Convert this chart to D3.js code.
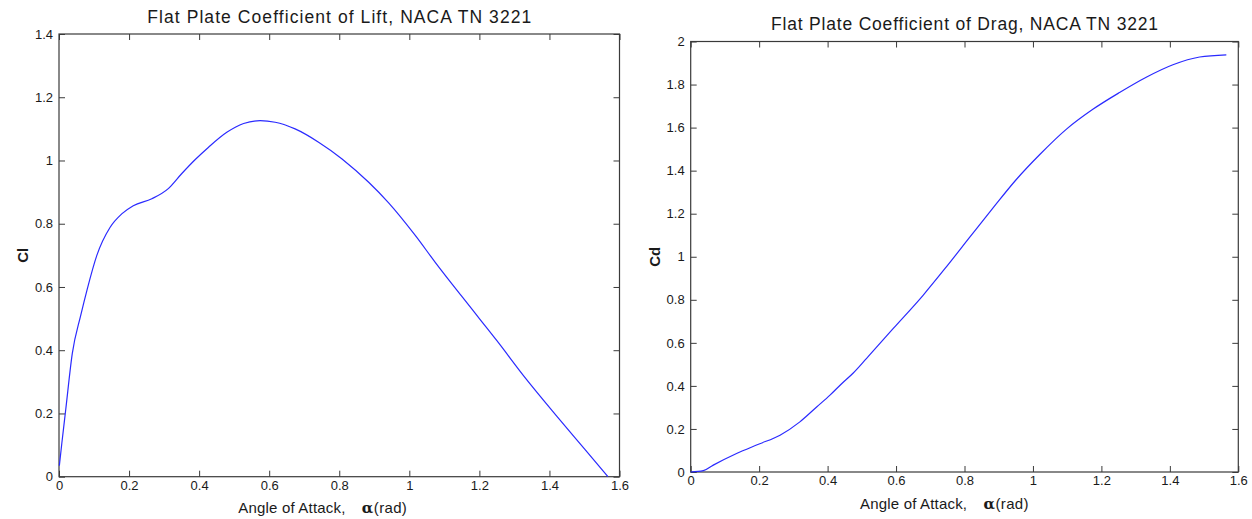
<!DOCTYPE html>
<html>
<head>
<meta charset="utf-8">
<script src="https://cdn.jsdelivr.net/npm/d3@7"></script>
<style>
  html, body { margin: 0; padding: 0; background: #ffffff; }
  svg { display: block; }
  text { font-family: "Liberation Sans", Arial, Helvetica, sans-serif; fill: #1a1a1a; }
</style>
</head>
<body>
<svg id="chart" width="1252" height="519"></svg>
<script>
// Flat plate lift coefficient vs angle of attack (rad)
const liftAlpha = [0.001, 0.008, 0.019, 0.038, 0.062, 0.081, 0.108, 0.146, 0.179, 0.212, 0.265, 0.312, 0.35, 0.389, 0.427, 0.479, 0.527, 0.574, 0.617, 0.674, 0.741, 0.808, 0.884, 0.941, 1.017, 1.074, 1.15, 1.2, 1.25, 1.327, 1.422, 1.5, 1.567];
const liftCl    = [0.035, 0.105, 0.21, 0.39, 0.51, 0.595, 0.7, 0.789, 0.831, 0.857, 0.879, 0.911, 0.958, 1.003, 1.042, 1.089, 1.117, 1.126, 1.121, 1.1, 1.058, 1.005, 0.931, 0.866, 0.763, 0.678, 0.57, 0.5, 0.43, 0.318, 0.19, 0.088, 0];

// Flat plate drag coefficient vs angle of attack (rad)
const dragAlpha = [0, 0.037, 0.066, 0.134, 0.2, 0.261, 0.319, 0.368, 0.407, 0.441, 0.475, 0.514, 0.592, 0.679, 0.747, 0.816, 0.884, 0.952, 1.02, 1.098, 1.175, 1.253, 1.331, 1.409, 1.487, 1.565];
const dragCd    = [0, 0.006, 0.032, 0.086, 0.13, 0.171, 0.233, 0.302, 0.357, 0.41, 0.46, 0.528, 0.667, 0.821, 0.953, 1.092, 1.228, 1.36, 1.475, 1.593, 1.685, 1.763, 1.834, 1.892, 1.928, 1.938];

// Tick values and labels
const xTicks      = [0, 0.2, 0.4, 0.6, 0.8, 1, 1.2, 1.4, 1.6];
const xTickLabels = ["0", "0.2", "0.4", "0.6", "0.8", "1", "1.2", "1.4", "1.6"];
const liftYTicks      = [0, 0.2, 0.4, 0.6, 0.8, 1, 1.2, 1.4];
const liftYTickLabels = ["0", "0.2", "0.4", "0.6", "0.8", "1", "1.2", "1.4"];
const dragYTicks      = [0, 0.2, 0.4, 0.6, 0.8, 1, 1.2, 1.4, 1.6, 1.8, 2];
const dragYTickLabels = ["0", "0.2", "0.4", "0.6", "0.8", "1", "1.2", "1.4", "1.6", "1.8", "2"];

const titles = ["Flat Plate Coefficient of Lift, NACA TN 3221", "Flat Plate Coefficient of Drag, NACA TN 3221"];
const yLabels = ["Cl", "Cd"];

const svg = d3.select("#chart");

const panels = [
  {
    alpha: liftAlpha, values: liftCl, yDomain: [0, 1.4],
    yTicks: liftYTicks, yTickLabels: liftYTickLabels,
    title: titles[0], yLabel: yLabels[0],
    left: 59, right: 619.5, top: 34, bottom: 476.7,
    titleWidth: 384, yLabelX: 23, xLabelStart: 238.3
  },
  {
    alpha: dragAlpha, values: dragCd, yDomain: [0, 2],
    yTicks: dragYTicks, yTickLabels: dragYTickLabels,
    title: titles[1], yLabel: yLabels[1],
    left: 690.7, right: 1238.3, top: 41.5, bottom: 472,
    titleWidth: 387, yLabelX: 655, xLabelStart: 860
  }
];

const axisColor = "#3a3a3a";
const tickLen = 6;

panels.forEach(p => {
  const x = d3.scaleLinear().domain([0, 1.6]).range([p.left, p.right]);
  const y = d3.scaleLinear().domain(p.yDomain).range([p.bottom, p.top]);
  const g = svg.append("g");

  const fmtX = (d, i) => xTickLabels[i];
  const fmtY = (d, i) => p.yTickLabels[i];

  // Bottom axis with labels, ticks pointing inward
  const bottomAxis = g.append("g")
    .attr("transform", `translate(0,${p.bottom})`)
    .call(d3.axisBottom(x).tickValues(xTicks).tickFormat(fmtX)
      .tickSizeInner(-tickLen).tickSizeOuter(0).tickPadding(4));
  // Left axis with labels
  const leftAxis = g.append("g")
    .attr("transform", `translate(${p.left},0)`)
    .call(d3.axisLeft(y).tickValues(p.yTicks).tickFormat(fmtY)
      .tickSizeInner(-tickLen).tickSizeOuter(0).tickPadding(6));
  // Top and right axes: ticks only
  const topAxis = g.append("g")
    .attr("transform", `translate(0,${p.top})`)
    .call(d3.axisTop(x).tickValues(xTicks).tickFormat("")
      .tickSizeInner(-tickLen).tickSizeOuter(0));
  const rightAxis = g.append("g")
    .attr("transform", `translate(${p.right},0)`)
    .call(d3.axisRight(y).tickValues(p.yTicks).tickFormat("")
      .tickSizeInner(-tickLen).tickSizeOuter(0));

  [bottomAxis, leftAxis, topAxis, rightAxis].forEach(a => {
    a.select(".domain").remove();
    a.selectAll(".tick line").attr("stroke", axisColor).attr("stroke-width", 1);
    a.selectAll(".tick text")
      .attr("font-size", 13)
      .attr("font-family", '"Liberation Sans", Arial, sans-serif')
      .attr("fill", "#1a1a1a");
  });

  // Axes box
  g.append("rect")
    .attr("x", p.left).attr("y", p.top)
    .attr("width", p.right - p.left).attr("height", p.bottom - p.top)
    .attr("fill", "none").attr("stroke", axisColor).attr("stroke-width", 1.2);

  // Data curve
  const pts = p.alpha.map((a, i) => [a, p.values[i]]);
  const line = d3.line()
    .x(d => x(d[0])).y(d => y(d[1]))
    .curve(d3.curveMonotoneX);
  g.append("path")
    .datum(pts)
    .attr("d", line)
    .attr("fill", "none")
    .attr("stroke", "#2a2aff")
    .attr("stroke-width", 1.2);

  // Title
  const cx = (p.left + p.right) / 2;
  g.append("text")
    .attr("x", cx).attr("y", p.top - 11.5)
    .attr("text-anchor", "middle")
    .attr("font-size", 17.5)
    .attr("textLength", p.titleWidth)
    .attr("lengthAdjust", "spacing")
    .text(p.title);

  // X axis label: "Angle of Attack,   α (rad)"
  const xl = g.append("text")
    .attr("y", p.bottom + 36.5)
    .attr("font-size", 15);
  xl.append("tspan").attr("x", p.xLabelStart)
    .attr("textLength", 107).attr("lengthAdjust", "spacing")
    .text("Angle of Attack,");
  xl.append("tspan").attr("x", p.xLabelStart + 123.5)
    .attr("font-weight", "bold").attr("font-family", '"DejaVu Serif", "Liberation Serif", serif')
    .text("α");
  xl.append("tspan").attr("x", p.xLabelStart + 135.5)
    .attr("textLength", 33).attr("lengthAdjust", "spacing")
    .text("(rad)");

  // Y axis label, rotated
  const cy = (p.top + p.bottom) / 2;
  g.append("text")
    .attr("transform", `translate(${p.yLabelX},${cy}) rotate(-90)`)
    .attr("text-anchor", "middle")
    .attr("dy", "0.36em")
    .attr("font-size", 15)
    .attr("font-weight", "bold")
    .text(p.yLabel);
});
</script>
</body>
</html>
